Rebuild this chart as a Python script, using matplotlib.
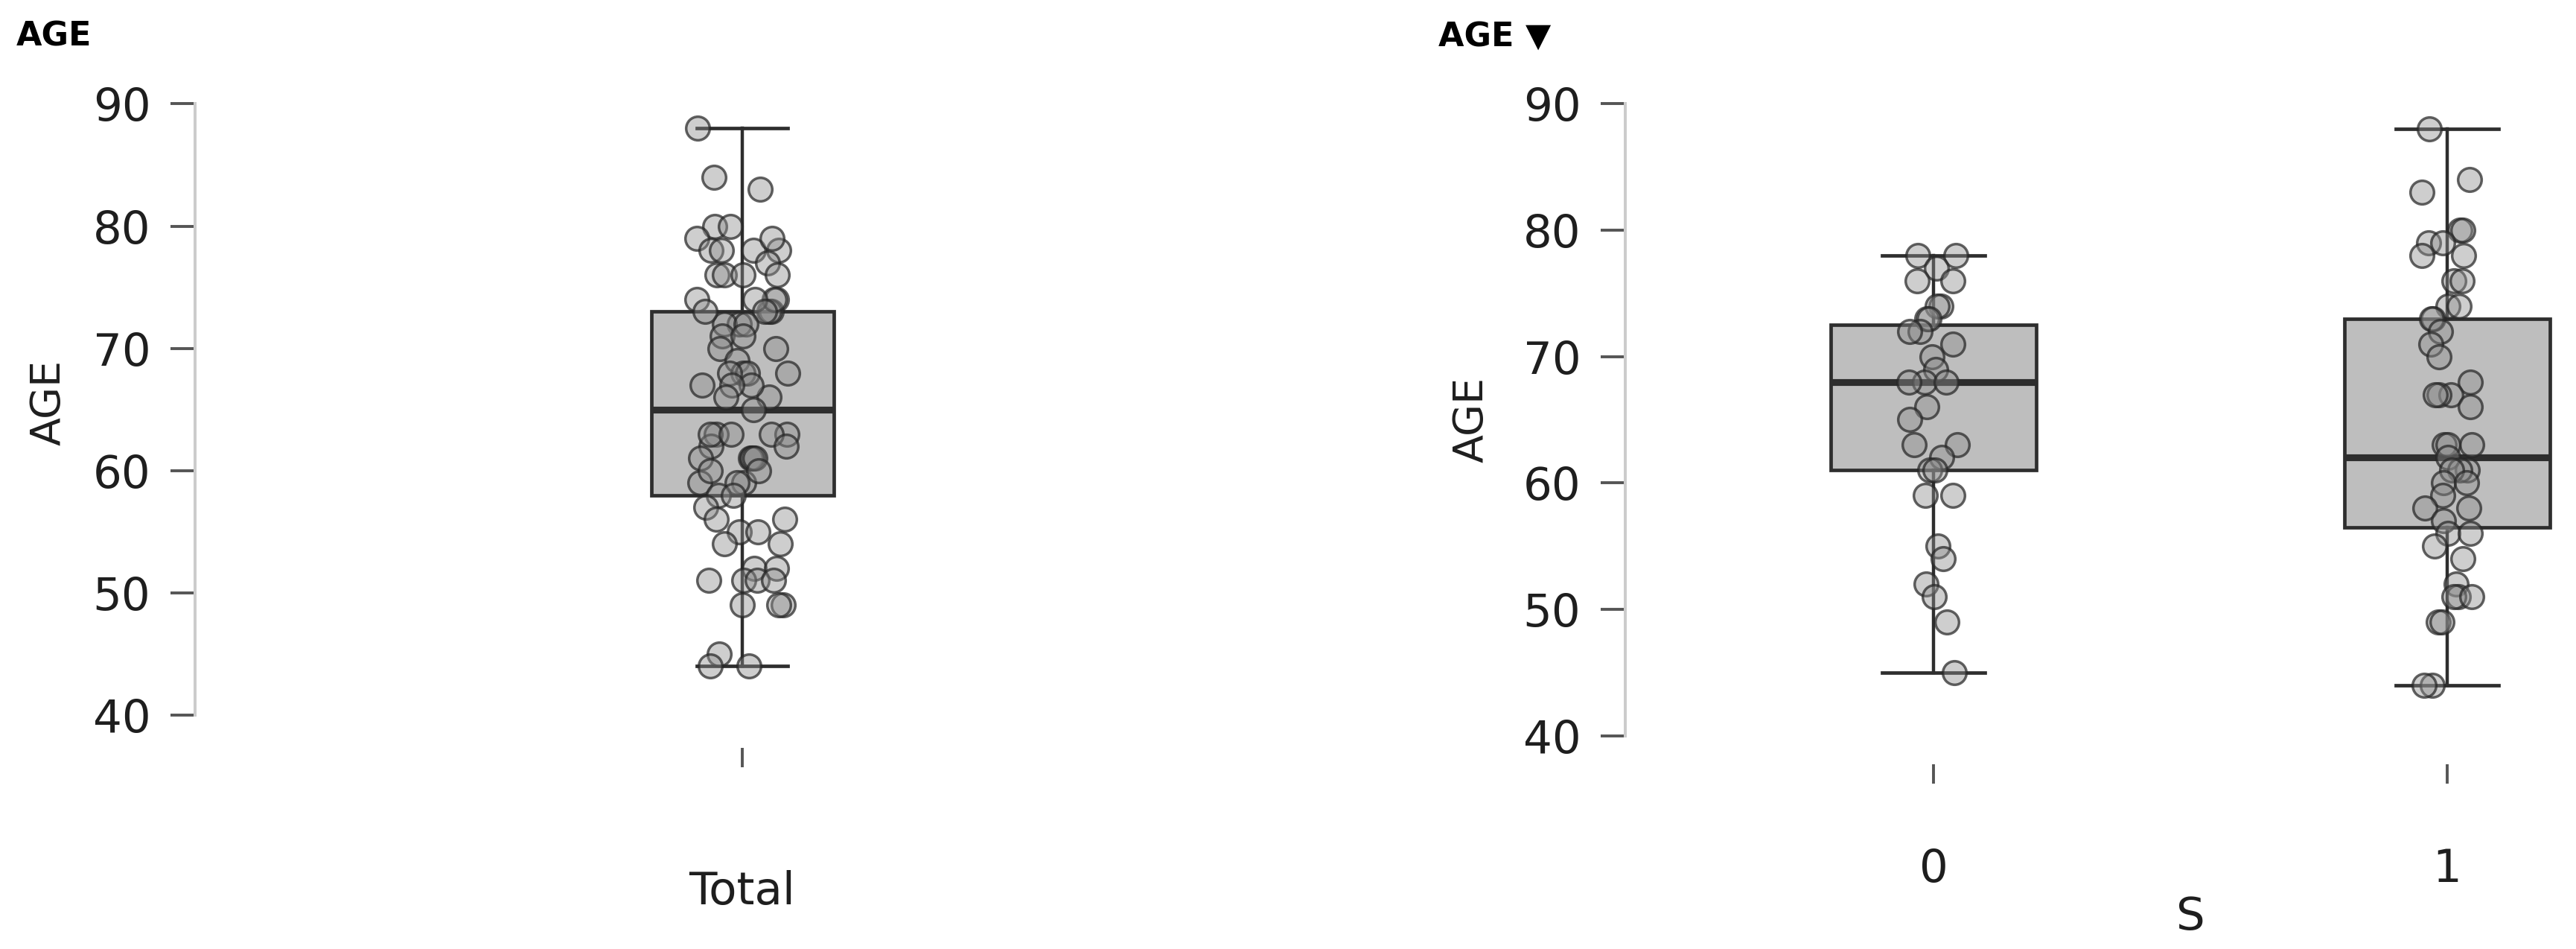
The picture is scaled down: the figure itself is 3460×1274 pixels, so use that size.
from __future__ import annotations

from typing import Final

import matplotlib

matplotlib.use("Agg")

import matplotlib.pyplot as plt
import numpy as np

# ages, split by S
AGE_S0: Final[list[int]] = [
    78, 78, 77, 76, 76, 74, 74, 73, 73, 72, 72, 71, 70, 69, 68, 68,
    68, 66, 65, 63, 63, 62, 61, 61, 59, 59, 55, 54, 52, 51, 49, 45,
]
AGE_S1: Final[list[int]] = [
    88, 84, 83, 80, 80, 79, 79, 78, 78, 76, 76, 74, 74, 73, 73, 72,
    71, 70, 68, 67, 67, 67, 66, 63, 63, 63, 62, 61, 61, 61, 60, 60,
    59, 58, 58, 57, 56, 56, 55, 54, 52, 51, 51, 51, 49, 49, 44, 44,
]
AGE_TOTAL: Final[list[int]] = AGE_S0 + AGE_S1

# box statistics as drawn: low whisker, q1, median, q3, high whisker
BOX_TOTAL: Final[list[float]] = [44, 58, 65, 73, 88]
BOX_S0: Final[list[float]] = [45, 61, 68, 72.5, 78]
BOX_S1: Final[list[float]] = [44, 56.5, 62, 73, 88]

GROUP_LABELS: Final[list[str]] = ["0", "1"]
Y_TICKS: Final[list[int]] = [40, 50, 60, 70, 80, 90]

DPI: Final[int] = 200
FIGSIZE: Final[tuple[float, float]] = (17.3, 6.37)
FONT: Final[str] = "DejaVu Sans"

BOX_FACE = "#bebebe"
LINE_DARK = "#2e2e2e"
SPINE_GREY = "#cccccc"
TICK_GREY = "#555555"
TEXT_DARK = "#1e1e1e"
POINT_FACE = (0.55, 0.55, 0.55, 0.42)
POINT_EDGE = (0.15, 0.15, 0.15, 0.72)


def box_stats(values: list[float], label: str) -> dict:
    low, q1, med, q3, high = values
    return {"whislo": low, "q1": q1, "med": med, "q3": q3, "whishi": high,
            "fliers": [], "label": label}


def draw_boxes(ax, stats: list[dict], positions: list[float]) -> None:
    ax.bxp(
        stats,
        positions=positions,
        widths=0.4,
        capwidths=0.2,
        patch_artist=True,
        showfliers=False,
        boxprops={"facecolor": BOX_FACE, "edgecolor": LINE_DARK, "linewidth": 1.7},
        medianprops={"color": LINE_DARK, "linewidth": 3.3},
        whiskerprops={"color": LINE_DARK, "linewidth": 1.6},
        capprops={"color": LINE_DARK, "linewidth": 1.7},
        zorder=2,
    )


def draw_points(ax, values: list[int], position: float, spread: float, rng) -> None:
    offsets = rng.uniform(-spread, spread, size=len(values))
    ax.scatter(
        position + offsets,
        values,
        s=130,
        facecolor=POINT_FACE,
        edgecolor=POINT_EDGE,
        linewidth=1.25,
        zorder=3,
    )


def style_axis(ax) -> None:
    for side in ("top", "right", "bottom"):
        ax.spines[side].set_visible(False)
    ax.spines["left"].set_bounds(40, 90)
    ax.spines["left"].set_color(SPINE_GREY)
    ax.spines["left"].set_linewidth(1.44)
    ax.set_yticks(Y_TICKS)
    ax.tick_params(axis="y", length=12, width=1.4, color=TICK_GREY, pad=9.5,
                   labelsize=22, labelcolor=TEXT_DARK)
    ax.tick_params(axis="x", length=9.4, width=1.4, color=TICK_GREY, pad=31,
                   labelsize=22, labelcolor=TEXT_DARK)
    ax.set_ylabel("AGE", fontsize=20, color=TEXT_DARK)


plt.rcParams["font.family"] = [FONT]
rng = np.random.default_rng(7)

fig = plt.figure(figsize=FIGSIZE, dpi=DPI)

# left: all cases
ax_total = fig.add_axes([262 / 3460, 0.2117, 1470 / 3460, 0.6917])
draw_boxes(ax_total, [box_stats(BOX_TOTAL, "")], [0])
draw_points(ax_total, AGE_TOTAL, 0, 0.1, rng)
ax_total.set_xlim(-1.2, 1.2)
ax_total.set_ylim(37.3, 91)
style_axis(ax_total)
ax_total.set_xticks([0])
ax_total.set_xticklabels([""])
ax_total.set_xlabel("Total", fontsize=22, color=TEXT_DARK)
ax_total.xaxis.set_label_coords(0.5, -0.186)
ax_total.yaxis.set_label_coords(-0.115, 0.526)

# right: split by S (axes runs past the right edge, as in the original)
ax_split = fig.add_axes([2183 / 3460, 0.1947, 1518 / 3460, 0.7095])
draw_boxes(ax_split, [box_stats(BOX_S0, "0"), box_stats(BOX_S1, "1")], [0, 1])
draw_points(ax_split, AGE_S0, 0, 0.05, rng)
draw_points(ax_split, AGE_S1, 1, 0.05, rng)
ax_split.set_xlim(-0.6, 1.6)
ax_split.set_ylim(37.76, 91)
style_axis(ax_split)
ax_split.set_xticks([0, 1])
ax_split.set_xticklabels(GROUP_LABELS)
ax_split.set_xlabel("S", fontsize=22, color=TEXT_DARK)
ax_split.xaxis.set_label_coords(0.5, -0.195)
ax_split.yaxis.set_label_coords(-0.118, 0.512)

fig.text(22 / 3460, 1 - 62 / 1274, "AGE", fontsize=16, fontweight="bold",
         color="black", va="baseline")
fig.text(1932 / 3460, 1 - 62 / 1274, "AGE \u25bc", fontsize=16, fontweight="bold",
         color="black", va="baseline")

fig.savefig("out.png", dpi=DPI)
plt.close(fig)
